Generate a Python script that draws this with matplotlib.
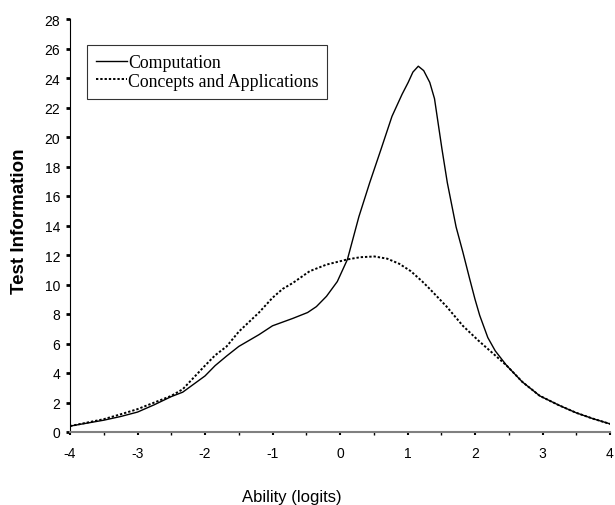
import numpy as np
import matplotlib.pyplot as plt
from matplotlib.ticker import MultipleLocator

plt.rcParams['axes.unicode_minus'] = False

# curvas de informacao do teste
comp_x = [-4.0, -3.5, -3.25, -3.0, -2.75, -2.5, -2.33, -2.0, -1.85, -1.68, -1.5, -1.2,
          -1.0, -0.85, -0.7, -0.48, -0.35, -0.2, -0.04, 0.11, 0.28, 0.44, 0.61, 0.77,
          0.92, 1.01, 1.08, 1.16, 1.24, 1.33, 1.40, 1.51, 1.59, 1.72, 1.82, 1.92,
          2.0, 2.07, 2.19, 2.3, 2.47, 2.7, 2.96, 3.25, 3.5, 3.75, 4.0]
comp_y = [0.4, 0.8, 1.05, 1.35, 1.85, 2.4, 2.7, 3.8, 4.5, 5.15, 5.8, 6.6,
          7.2, 7.45, 7.7, 8.1, 8.5, 9.2, 10.2, 11.7, 14.6, 16.9, 19.2, 21.4,
          22.9, 23.7, 24.4, 24.8, 24.5, 23.7, 22.6, 19.2, 16.9, 13.9, 12.2, 10.4,
          9.0, 7.9, 6.4, 5.5, 4.5, 3.4, 2.45, 1.8, 1.3, 0.9, 0.55]

conc_x = [-4.0, -3.5, -3.25, -3.0, -2.75, -2.5, -2.33, -2.0, -1.85, -1.68, -1.5, -1.2,
          -1.0, -0.85, -0.7, -0.45, -0.2, 0.11, 0.3, 0.51, 0.7, 0.88, 1.05, 1.22,
          1.33, 1.58, 1.82, 2.05, 2.31, 2.47, 2.7, 2.96, 3.25, 3.5, 3.75, 4.0]
conc_y = [0.4, 0.87, 1.2, 1.55, 2.0, 2.45, 2.9, 4.5, 5.2, 5.8, 6.8, 8.1,
          9.1, 9.7, 10.1, 10.9, 11.35, 11.7, 11.85, 11.9, 11.75, 11.4, 10.9, 10.2,
          9.7, 8.5, 7.2, 6.2, 5.15, 4.5, 3.4, 2.45, 1.8, 1.3, 0.9, 0.55]

labels = ['Computation', 'Concepts and Applications']

fig = plt.figure(figsize=(6.15, 5.06), dpi=100)
ax = fig.add_axes([70/615, 1 - 433/506, 540/615, 413/506])

ax.plot(comp_x, comp_y, color='black', lw=1.0, label=labels[0])
ax.plot(conc_x, conc_y, color='black', lw=1.4, linestyle=(0, (1.2, 1.0)), label=labels[1])

ax.set_xlim(-4, 4)
ax.set_ylim(0, 28)
ax.xaxis.set_major_locator(MultipleLocator(1))
ax.xaxis.set_minor_locator(MultipleLocator(0.5))
ax.yaxis.set_major_locator(MultipleLocator(2))

for s in ['top', 'right']:
    ax.spines[s].set_visible(False)
ax.spines['bottom'].set_color('#808080')
ax.spines['bottom'].set_linewidth(1.5)
ax.spines['left'].set_linewidth(0.8)

ax.tick_params(axis='y', direction='out', length=3, width=2, pad=4,
               labelsize=10, labelfontfamily='Liberation Sans')
ax.tick_params(axis='x', which='major', direction='out', length=2, width=1.5, pad=8,
               labelsize=10, labelfontfamily='Liberation Sans')
ax.tick_params(axis='x', which='minor', direction='out', length=2, width=1)

fig.text(20/615, 1 - 221/506, 'Test Information', rotation=90, ha='center', va='center',
         fontsize=13.5, fontweight='bold', family='Liberation Sans')
fig.text(292/615, 1 - 498/506, 'Ability (logits)', ha='center', va='center',
         fontsize=12, family='Liberation Sans')

leg = ax.legend(loc='upper left', bbox_to_anchor=(87/615, 1 - 46/506),
                bbox_transform=fig.transFigure, frameon=True, fancybox=False,
                prop={'family': 'Liberation Serif', 'size': 12.8},
                handlelength=1.75, handletextpad=0.05, labelspacing=0.1,
                borderpad=0.5, borderaxespad=0)
leg.get_frame().set_edgecolor('black')
leg.get_frame().set_linewidth(0.8)

plt.savefig('out.png', dpi=100)
